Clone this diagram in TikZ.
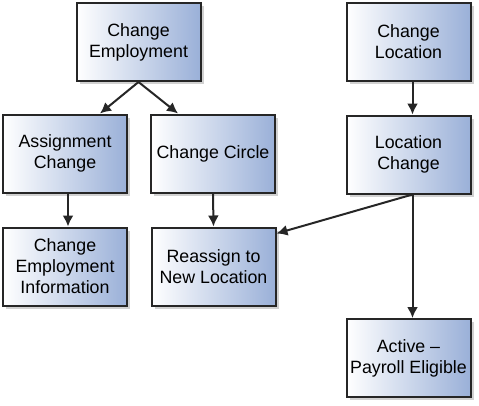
\documentclass[tikz,border=0pt]{standalone}
\usepackage{fontspec}
\setmainfont{Liberation Sans}
\usetikzlibrary{arrows.meta,shadows}
\definecolor{boxblue}{HTML}{9AB0D8}
\begin{document}
\begin{tikzpicture}[x=1pt,y=-1pt,
  box/.style={draw=black!85, line width=2pt, minimum width=124pt, minimum height=78pt,
    left color=white, right color=boxblue, align=center, inner sep=2pt,
    font=\fontsize{17.8}{21}\selectfont, text=black,
    drop shadow={shadow xshift=3pt, shadow yshift=-3pt, fill=black!30, opacity=0.6}},
  conn/.style={line width=2pt, draw=black!85, -{Latex[length=11pt,width=11pt]}}]
\useasboundingbox (0,0) rectangle (479,405);
\node[box] (CE) at (138.5,42) {Change\\Employment};
\node[box] (CL) at (408.5,42) {Change\\Location};
\node[box] (AC) at (65,153.5) {Assignment\\Change};
\node[box] (CC) at (213,153.5) {Change Circle};
\node[box] (LC) at (408.5,154.5) {Location\\Change};
\node[box] (CEI) at (65,266.5) {Change\\Employment\\Information};
\node[box] (RNL) at (213.5,266.5) {Reassign to\\New Location};
\node[box] (APE) at (408.5,358) {Active --\\Payroll Eligible};
\draw[conn] (CE.south) -- ([xshift=35pt]AC.north);
\draw[conn] (CE.south) -- ([xshift=-35pt]CC.north);
\draw[conn] ([xshift=4pt]CL.south) -- ([xshift=4pt]LC.north);
\draw[conn] ([xshift=3pt]AC.south) -- ([xshift=3pt]CEI.north);
\draw[conn] (CC.south) -- (RNL.north);
\coordinate (LCs) at ([xshift=4pt]LC.south);
\draw[conn] (LCs) -- ([yshift=-7pt]RNL.north east);
\draw[conn] (LCs) -- ([xshift=4pt]APE.north);
\end{tikzpicture}
\end{document}
